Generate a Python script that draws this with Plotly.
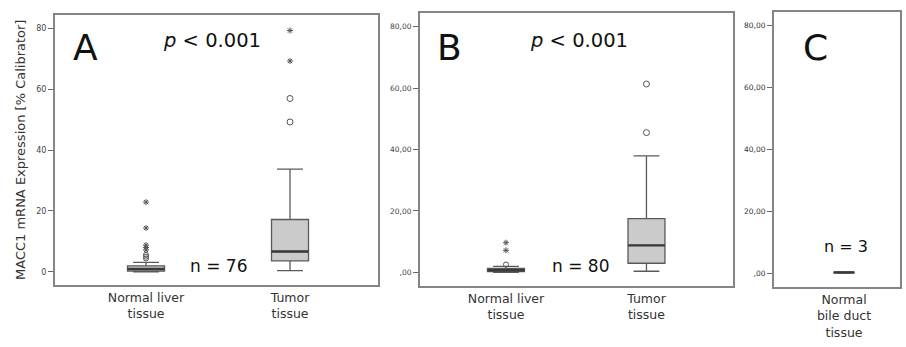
import plotly.graph_objects as go

W, H = 906, 347

# ---------------- data ----------------
cat_AB = ["Normal liver<br>tissue", "Tumor<br>tissue"]
cat_C = ["Normal<br>bile duct<br>tissue"]

# panel A box statistics (normal liver, tumor)
A_q1 = [0.3, 3.6]
A_median = [1.0, 6.7]
A_q3 = [2.0, 17.2]
A_lower = [0.0, 0.4]
A_upper = [3.1, 33.7]
A_circ_normal = [4.4, 5.0, 5.6]
A_star_normal = [7.2, 8.0, 8.8, 14.4, 22.9]
A_circ_tumor = [49.2, 56.9]
A_star_tumor = [69.2, 79.2]

# panel B box statistics
B_q1 = [0.3, 3.0]
B_median = [0.7, 8.8]
B_q3 = [1.3, 17.5]
B_lower = [0.0, 0.4]
B_upper = [2.0, 37.9]
B_circ_normal = [2.6]
B_star_normal = [7.2, 9.7]
B_circ_tumor = [45.5, 61.3]

# panel C box statistics
C_q1 = [0.1]
C_median = [0.2]
C_q3 = [0.3]
C_lower = [0.0]
C_upper = [0.4]

A_ticks = [0, 20, 40, 60, 80]
A_ticktext = ["0", "20", "40", "60", "80"]
BC_ticks = [0, 20, 40, 60, 80]
BC_ticktext = [",00", "20,00", "40,00", "60,00", "80,00"]

# ---------------- helpers ----------------
def px(x):
    return x / W

def py(y):
    return 1 - y / H

FONT = "DejaVu Sans"
BOXFILL = "#cbcbcb"
BOXLINE = "#5a5a5a"
MEDLINE = "#3a3a3a"
FRAME = "#858585"

fig = go.Figure()

def add_box(xs, q1, med, q3, lo, up, width, xa, ya):
    fig.add_trace(go.Box(
        x=xs, q1=q1, median=med, q3=q3, lowerfence=lo, upperfence=up,
        width=width, whiskerwidth=0.7, boxpoints=False,
        fillcolor=BOXFILL, line=dict(color=BOXLINE, width=1.3),
        xaxis=xa, yaxis=ya, showlegend=False, hoverinfo="skip"))
    # emphasised median line
    mx, my = [], []
    for c, m in zip(xs, med):
        mx += [c - width / 2, c + width / 2, None]
        my += [m, m, None]
    fig.add_trace(go.Scatter(x=mx, y=my, mode="lines",
                             line=dict(color=MEDLINE, width=2.4),
                             xaxis=xa, yaxis=ya, showlegend=False, hoverinfo="skip"))

def add_pts(x, ys, symbol, xa, ya, size=6):
    fig.add_trace(go.Scatter(
        x=[x] * len(ys), y=ys, mode="markers",
        marker=dict(symbol=symbol, size=size, color="#555",
                    line=dict(color="#555", width=1)),
        xaxis=xa, yaxis=ya, showlegend=False, hoverinfo="skip"))

# Panel A
add_box([1, 2], A_q1, A_median, A_q3, A_lower, A_upper, 0.257, "x", "y")
add_pts(1, A_circ_normal, "circle-open", "x", "y", 5)
add_pts(1, A_star_normal, "asterisk-open", "x", "y", 5)
add_pts(2, A_circ_tumor, "circle-open", "x", "y", 6)
add_pts(2, A_star_tumor, "asterisk-open", "x", "y", 5)

# Panel B
add_box([1, 2], B_q1, B_median, B_q3, B_lower, B_upper, 0.263, "x2", "y2")
add_pts(1, B_circ_normal, "circle-open", "x2", "y2", 5)
add_pts(1, B_star_normal, "asterisk-open", "x2", "y2", 5)
add_pts(2, B_circ_tumor, "circle-open", "x2", "y2", 6)

# Panel C
add_box([1], C_q1, C_median, C_q3, C_lower, C_upper, 0.29, "x3", "y3")

axis_common = dict(showline=True, mirror=True, linecolor=FRAME, linewidth=2,
                   showgrid=False, zeroline=False, fixedrange=True)

fig.update_layout(
    width=W, height=H, margin=dict(l=0, r=0, t=0, b=0),
    paper_bgcolor="white", plot_bgcolor="white",
    font=dict(family=FONT, color="#333"),
    xaxis=dict(domain=[px(55), px(378)], range=[0.368, 2.611],
               tickvals=[1, 2], ticktext=cat_AB, ticks="",
               tickfont=dict(size=12.5, color="#333"), **axis_common),
    yaxis=dict(domain=[py(285), py(15)], range=[-4.3, 84.3],
               tickvals=A_ticks, ticktext=A_ticktext, ticks="outside", ticklen=5,
               tickcolor="#666", tickfont=dict(size=8, color="#444"), **axis_common),
    xaxis2=dict(domain=[px(420), px(733)], range=[0.388, 2.616], anchor="y2",
                tickvals=[1, 2], ticktext=cat_AB, ticks="",
                tickfont=dict(size=12.5, color="#333"), **axis_common),
    yaxis2=dict(domain=[py(286), py(13)], range=[-4.4, 84.4], anchor="x2",
                tickvals=BC_ticks, ticktext=BC_ticktext, ticks="outside", ticklen=5,
                tickcolor="#666", tickfont=dict(size=7.5, color="#444"), **axis_common),
    xaxis3=dict(domain=[px(774), px(900)], range=[0.0, 1.8], anchor="y3",
                tickvals=[1], ticktext=cat_C, ticks="",
                tickfont=dict(size=12.5, color="#333"), **axis_common),
    yaxis3=dict(domain=[py(287), py(12)], range=[-4.5, 84.3], anchor="x3",
                tickvals=BC_ticks, ticktext=BC_ticktext, ticks="outside", ticklen=5,
                tickcolor="#666", tickfont=dict(size=7.5, color="#333"), **axis_common),
)

ann = []
def text(x, y, t, size, **kw):
    ann.append(dict(x=px(x), y=py(y), xref="paper", yref="paper", text=t,
                    showarrow=False, xanchor="center", yanchor="middle",
                    font=dict(family=FONT, size=size, color=kw.pop("color", "#111")), **kw))

text(85, 48, "A", 36)
text(449, 48, "B", 36)
text(815, 48, "C", 36)
text(212, 40, "<i>p</i> < 0.001", 19.5)
text(579, 40, "<i>p</i> < 0.001", 19.5)
text(218, 266, "n = 76", 17)
text(580, 266, "n = 80", 17)
text(846, 246, "n = 3", 16)
text(20, 150, "MACC1 mRNA Expression [% Calibrator]", 13, textangle=-90, color="#333")

fig.update_layout(annotations=ann)

fig.write_html("out.html", config={"displayModeBar": False},
               post_script="document.body.style.margin='0';")
